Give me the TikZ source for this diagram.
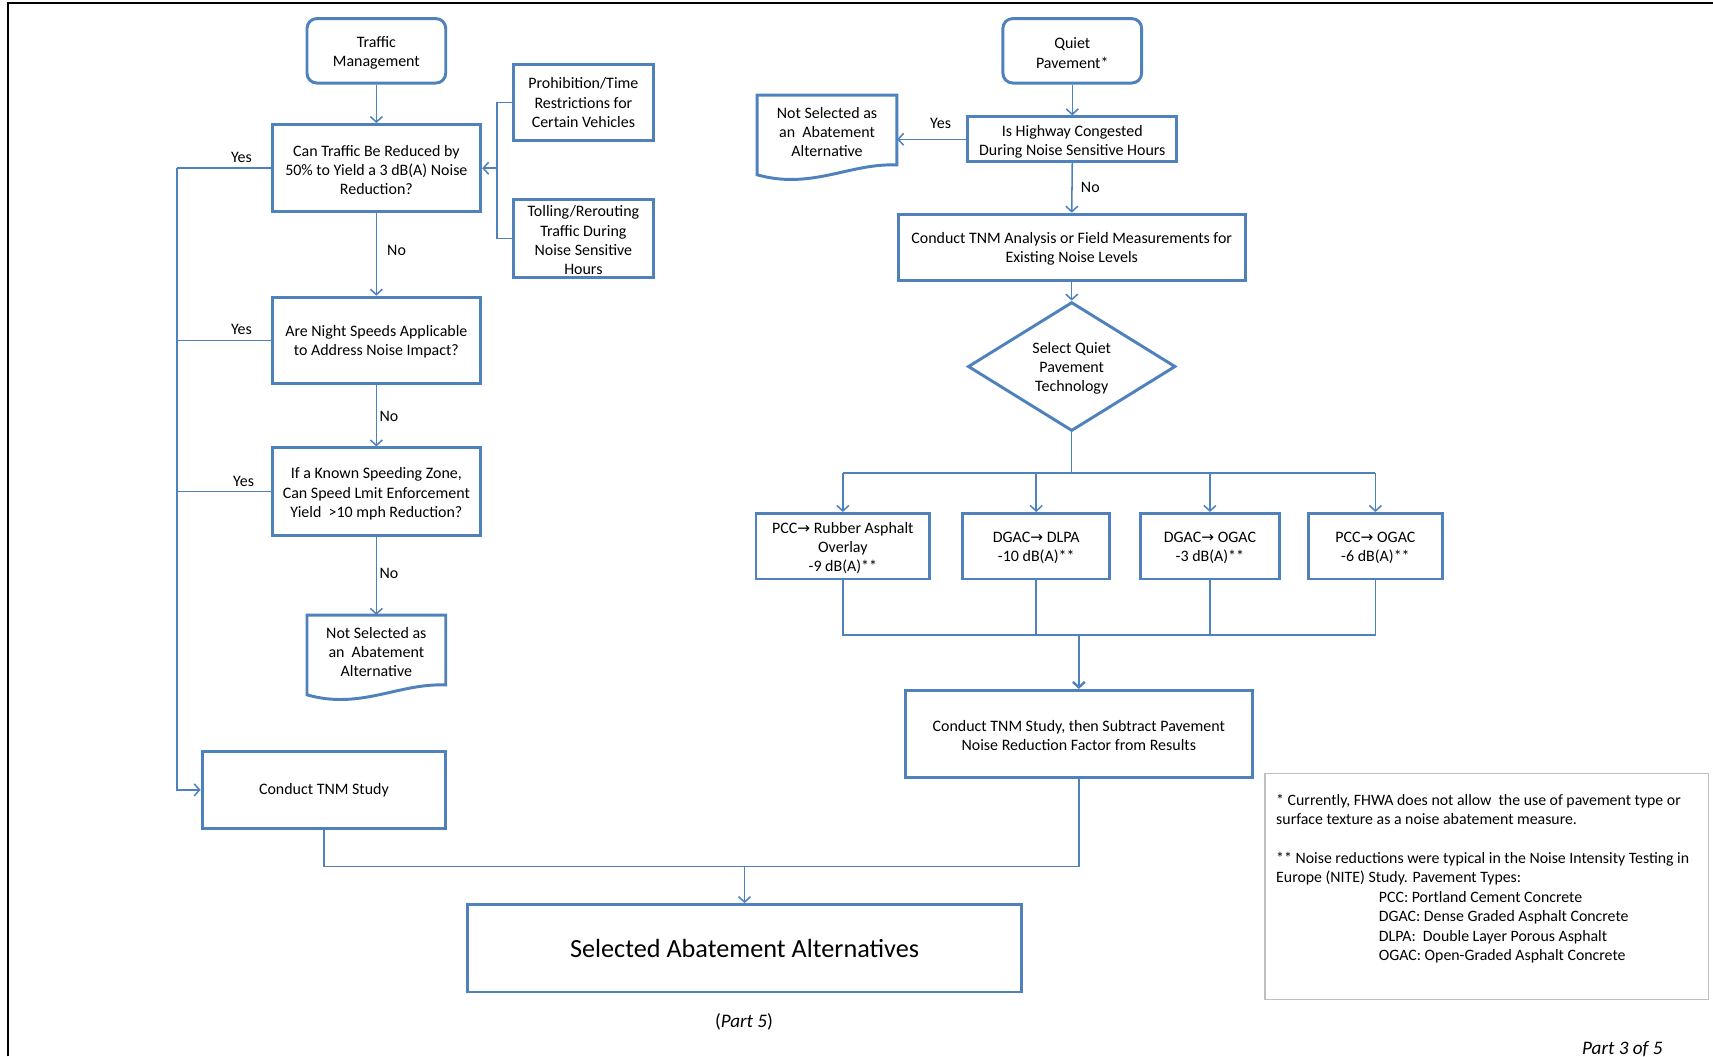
\documentclass[tikz,border=0pt]{standalone}
\usepackage{fontspec}
\setmainfont{Carlito}
\newfontfamily\arrowfont{DejaVu Sans}
\usetikzlibrary{arrows.meta,shapes.geometric}
\definecolor{blu}{HTML}{4F81BD}
\definecolor{notegray}{HTML}{BFBFBF}
\newcommand{\ra}{{\arrowfont\fontsize{14}{14}\selectfont →}}
\tikzset{
  box/.style={draw=blu, line width=2.7pt, align=center, inner sep=2pt},
  rbox/.style={box, rounded corners=9pt},
  txt/.style={align=center, inner sep=0pt},
  docline/.style={draw=blu, line width=2.7pt, line join=miter},
  conn/.style={draw=blu, line width=1.4pt},
  arr/.style={conn, -{Straight Barb[length=5pt,width=11pt]}},
  lbl/.style={inner sep=0pt},
}
\begin{document}
\begin{tikzpicture}[x=1pt,y=-1pt,font=\fontsize{14.6}{17.6}\selectfont]
\useasboundingbox (0,0) rectangle (1568,967);
% frame
\draw[black, line width=2pt] (7,967) -- (7,3) -- (1568,3);

% ---------- left column ----------
\node[rbox, minimum width=127, minimum height=59] (tm) at (344.5,46.5) {};
\node[txt] (tmtxt) at (344.5,48.5) {Traffic\\Management};
\node[box, minimum width=191, minimum height=80] (q1) at (344.5,154) {};
\node[txt] (q1txt) at (344.5,155.5) {Can Traffic Be Reduced by\\50\% to Yield a 3 dB(A) Noise\\Reduction?};
\node[box, minimum width=128, minimum height=70] (pro) at (534,94) {Prohibition/Time\\Restrictions for\\Certain Vehicles};
\node[box, minimum width=128, minimum height=71] (tol) at (534,218.5) {};
\node[txt] (toltxt) at (534,220) {Tolling/Rerouting\\Traffic During\\Noise Sensitive\\Hours};
\node[box, minimum width=191, minimum height=79] (q2) at (344.5,311.5) {};
\node[txt] (q2txt) at (344.5,313) {Are Night Speeds Applicable\\to Address Noise Impact?};
\node[box, minimum width=191, minimum height=80] (q3) at (344.5,450) {};
\node[txt] (q3txt) at (344.5,452) {If a Known Speeding Zone,\\Can Speed Lmit Enforcement\\Yield~~>10 mph Reduction?};
\node[txt, minimum width=127, minimum height=72] (ns1) at (344.5,599) {};
\node[txt] (ns1txt) at (344.5,597) {Not Selected as\\an~~Abatement\\Alternative};
\draw[docline] (281,563) -- (408,563) -- (408,627) .. controls (365,625) and (330,650) .. (281,636) -- cycle;
\node[box, minimum width=223, minimum height=70] (tnm) at (296.5,723) {Conduct TNM Study};
\node[box, minimum width=507, minimum height=80, font=\fontsize{24}{28}\selectfont] (sel) at (681.5,868) {Selected Abatement Alternatives};

% left connectors
\draw[arr] (tm.south) -- (q1.north);
\coordinate (brk) at (455,154);
\draw[conn] (pro.west) -| (brk) |- (tol.west);
\draw[arr] (brk) -- (q1.east);
\coordinate (ybus) at (162,154);
\draw[conn] (q1.west) -- (ybus);
\draw[arr] (ybus) |- (tnm.west);
\draw[conn] (q2.west) -- (q2.west -| ybus);
\draw[conn] (q3.west) -- (q3.west -| ybus);
\draw[arr] (q1.south) -- (q2.north);
\draw[arr] (q2.south) -- (q3.north);
\draw[arr] (q3.south) -- (ns1.north);
\node[lbl] (y1) at (221,144) {Yes};
\node[lbl] (y2) at (221,302) {Yes};
\node[lbl] (y3) at (223,441) {Yes};
\node[lbl] (n1) at (363,229) {No};
\node[lbl] (n2) at (356,381) {No};
\node[lbl] (n3) at (356,525) {No};

% ---------- right column ----------
\node[rbox, minimum width=127, minimum height=59] (qp) at (981.5,46.5) {};
\node[txt] (qptxt) at (981.5,48.5) {Quiet\\Pavement*};
\node[box, minimum width=191, minimum height=41, inner sep=0pt] (hc) at (981.5,127.5) {};
\node[txt] (hctxt) at (981.5,129.5) {Is Highway Congested\\During Noise Sensitive Hours};
\node[txt, minimum width=128, minimum height=72] (ns2) at (757,123) {};
\node[txt] (ns2txt) at (757,121) {Not Selected as\\an~~Abatement\\Alternative};
\draw[docline] (693,87) -- (821,87) -- (821,151) .. controls (778,149) and (743,174) .. (693,160) -- cycle;
\node[box, minimum width=318, minimum height=61] (an) at (981,226.5) {};
\node[txt] (antxt) at (981,228) {Conduct TNM Analysis or Field Measurements for\\Existing Noise Levels};
\node[diamond, draw=blu, line width=2.7pt, shape aspect=1.6, minimum width=190, minimum height=118, inner sep=0pt] (dia) at (981,335.5) {};
\node[txt] (diatxt) at (981,337) {Select Quiet\\Pavement\\Technology};
\node[box, minimum width=159, minimum height=60] (p1) at (771.5,500) {};
\node[txt] (p1txt) at (771.5,501.5) {PCC\ra{} Rubber Asphalt\\Overlay\\-9 dB(A)**};
\node[box, minimum width=135, minimum height=60] (p2) at (948.5,500) {};
\node[txt] (p2txt) at (948.5,501.5) {DGAC\ra{} DLPA\\-10 dB(A)**};
\node[box, minimum width=127, minimum height=60] (p3) at (1107.5,500) {};
\node[txt] (p3txt) at (1107.5,501.5) {DGAC\ra{} OGAC\\-3 dB(A)**};
\node[box, minimum width=122, minimum height=60] (p4) at (1259,500) {};
\node[txt] (p4txt) at (1259,501.5) {PCC\ra{} OGAC\\-6 dB(A)**};
\node[box, minimum width=318, minimum height=80] (cs) at (987.5,672) {};
\node[txt] (cstxt) at (987.5,673) {Conduct TNM Study, then Subtract Pavement\\Noise Reduction Factor from Results};

% right connectors
\draw[arr] (qp.south) -- (hc.north);
\draw[arr] (hc.west) -- (hc.west -| ns2.east);
\draw[arr] (hc.south) -- (an.north);
\draw[arr] (an.south) -- (dia.north);
\coordinate (split) at (981,433);
\draw[conn] (dia.south) -- (split);
\draw[conn] (p1.north |- split) -- (p4.north |- split);
\draw[arr] (p1.north |- split) -- (p1.north);
\draw[arr] (p2.north |- split) -- (p2.north);
\draw[arr] (p3.north |- split) -- (p3.north);
\draw[arr] (p4.north |- split) -- (p4.north);
\coordinate (merge) at (988,581);
\draw[conn] (p1.south) |- (merge) -| (p4.south);
\draw[conn] (p2.south) -- (p2.south |- merge);
\draw[conn] (p3.south) -- (p3.south |- merge);
\draw[arr, line width=2.2pt] (cs.north |- merge) -- (cs.north);
\node[lbl] (y4) at (861,113) {Yes};
\node[lbl] (n4) at (998,172) {No};

% bottom
\coordinate (bot) at (681,793);
\draw[conn] (tnm.south) |- (bot) -| (cs.south);
\draw[arr] (sel.north |- bot) -- (sel.north);
\node[lbl, font=\fontsize{17.5}{20}\selectfont] (part5) at (681,935) {(\textit{Part 5})};
\node[lbl, font=\fontsize{17.5}{20}\selectfont] (part3) at (1485,960) {\textit{Part 3 of 5}};

% notes
\node[draw=notegray, line width=1.5pt, minimum width=406, minimum height=207, inner sep=0pt] (notes) at (1361,811.5) {};
\node[anchor=north west, align=left, inner sep=0pt, font=\fontsize{14.5}{17.8}\selectfont] (notestxt) at (1168,726.5) {%
* Currently, FHWA does not allow~ the use of pavement type or\\
surface texture as a noise abatement measure.\\[17.8pt]
** Noise reductions were typical in the Noise Intensity Testing in\\
Europe (NITE) Study. Pavement Types:\\
\hspace*{94pt}PCC: Portland Cement Concrete\\
\hspace*{94pt}DGAC: Dense Graded Asphalt Concrete\\
\hspace*{94pt}DLPA:~ Double Layer Porous Asphalt\\
\hspace*{94pt}OGAC: Open-Graded Asphalt Concrete};
\end{tikzpicture}
\end{document}
